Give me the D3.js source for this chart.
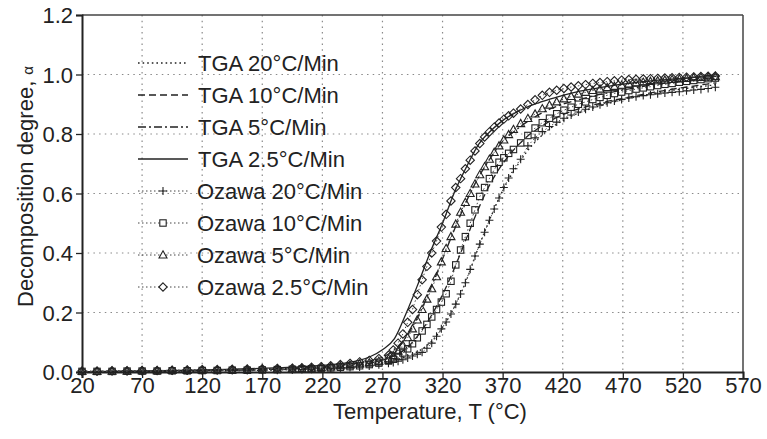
<!DOCTYPE html>
<html><head><meta charset="utf-8">
<script src="https://cdn.jsdelivr.net/npm/d3@7"></script>
<style>
body{margin:0;background:#fff}
text{font-family:"Liberation Sans",Arial,sans-serif;fill:#222}
</style>
</head><body>
<svg id="c" width="767" height="439"></svg>
<script>
const xTicks = [20,70,120,170,220,270,320,370,420,470,520,570];
const yTicks = [0,0.2,0.4,0.6,0.8,1.0,1.2];

const tgaNames = ["TGA 20°C/Min","TGA 10°C/Min","TGA 5°C/Min","TGA 2.5°C/Min"];
const ozNames = ["Ozawa 20°C/Min","Ozawa 10°C/Min","Ozawa 5°C/Min","Ozawa 2.5°C/Min"];

const tgaT = [20,40,60,80,100,120,140,160,180,200,220,240,250,260,270,280,290,300,310,320,330,340,350,360,370,380,390,400,410,420,430,440,450,460,470,480,490,500,510,520,530,540,548];
const tga20 = [0,0.001,0.001,0.002,0.002,0.003,0.004,0.005,0.007,0.009,0.011,0.015,0.018,0.023,
  0.03,0.04,0.052,0.07,0.1,0.15,0.22,0.31,0.42,0.52,0.61,0.68,0.74,0.785,0.82,0.845,0.865,0.88,0.893,0.905,0.915,0.924,0.932,0.94,0.946,0.952,0.957,0.962,0.966];
const tga10 = [0,0.001,0.002,0.002,0.003,0.004,0.005,0.007,0.009,0.011,0.014,0.019,0.023,0.03,
  0.04,0.055,0.08,0.125,0.185,0.26,0.35,0.45,0.55,0.635,0.7,0.75,0.79,0.82,0.845,0.865,0.88,0.892,0.902,0.912,0.92,0.928,0.936,0.943,0.95,0.956,0.962,0.968,0.972];
const tga5 = [0,0.001,0.002,0.003,0.004,0.005,0.007,0.009,0.011,0.014,0.018,0.025,0.03,0.038,
  0.05,0.075,0.12,0.19,0.28,0.38,0.48,0.575,0.655,0.72,0.775,0.81,0.84,0.865,0.885,0.9,0.912,0.922,0.932,0.94,0.948,0.955,0.962,0.968,0.973,0.978,0.983,0.987,0.99];
const tga25 = [0,0.002,0.003,0.004,0.005,0.007,0.009,0.011,0.014,0.017,0.022,0.031,0.038,0.052,
  0.075,0.112,0.2,0.3,0.405,0.5,0.605,0.69,0.765,0.81,0.845,0.87,0.89,0.905,0.918,0.93,0.94,0.948,0.955,0.962,0.968,0.973,0.977,0.981,0.984,0.987,0.99,0.992,0.994];

const ozT = [20,32.5,45,57.5,70,82.5,95,107.5,120,132.5,145,157.5,170,182.5,195,
  203,211,219,227,235,243,251,259,267,275,
  279,283,287,291,295,299,303,307,311,315,319,323,327,331,335,339,343,347,351,355,359,363,367,371,375,379,
  385,391,397,403,409,415,421,427,433,439,445,451,457,463,469,475,481,487,493,499,505,511,517,523,529,535,541,547];
const oz20 = [0.001,0.001,0.002,0.002,0.002,0.003,0.003,0.003,0.004,0.004,0.005,0.005,0.006,0.006,0.007,
  0.008,0.009,0.010,0.011,0.013,0.015,0.017,0.02,0.024,0.029,
  0.032,0.036,0.041,0.047,0.054,0.06,0.066,0.08,0.097,0.12,0.145,0.168,0.195,0.228,0.262,0.3,0.345,0.39,0.43,0.47,0.51,0.548,0.585,0.62,0.652,0.683,
  0.715,0.76,0.787,0.808,0.825,0.84,0.853,0.864,0.874,0.883,0.891,0.898,0.905,0.911,0.916,0.921,0.925,0.929,0.932,0.935,0.938,0.94,0.942,0.945,0.948,0.95,0.953,0.957];
const oz10 = [0.002,0.002,0.002,0.003,0.003,0.003,0.004,0.004,0.005,0.005,0.006,0.006,0.007,0.008,0.009,
  0.010,0.011,0.012,0.014,0.016,0.018,0.021,0.025,0.03,0.037,
  0.043,0.052,0.064,0.078,0.095,0.115,0.138,0.16,0.185,0.21,0.235,0.263,0.305,0.36,0.41,0.455,0.50,0.545,0.59,0.62,0.65,0.68,0.705,0.72,0.735,0.748,
  0.77,0.795,0.82,0.838,0.853,0.868,0.88,0.89,0.9,0.908,0.916,0.923,0.93,0.936,0.941,0.946,0.951,0.955,0.959,0.963,0.967,0.97,0.974,0.977,0.98,0.983,0.986,0.988];
const oz5 = [0.002,0.002,0.003,0.003,0.004,0.004,0.005,0.005,0.006,0.007,0.007,0.008,0.009,0.010,0.011,
  0.012,0.013,0.015,0.017,0.020,0.023,0.027,0.031,0.036,0.044,
  0.055,0.07,0.09,0.115,0.145,0.175,0.21,0.245,0.28,0.32,0.37,0.415,0.455,0.497,0.537,0.57,0.60,0.632,0.663,0.69,0.715,0.738,0.76,0.78,0.798,0.815,
  0.835,0.852,0.867,0.885,0.897,0.908,0.918,0.926,0.934,0.94,0.946,0.951,0.956,0.96,0.964,0.968,0.971,0.974,0.977,0.979,0.981,0.983,0.985,0.987,0.989,0.99,0.991,0.993];
const oz25 = [0.003,0.003,0.004,0.004,0.005,0.005,0.006,0.007,0.008,0.008,0.009,0.010,0.011,0.012,0.013,
  0.014,0.016,0.018,0.021,0.025,0.029,0.034,0.039,0.045,0.056,
  0.074,0.097,0.128,0.167,0.21,0.26,0.31,0.355,0.40,0.44,0.487,0.53,0.575,0.62,0.65,0.683,0.712,0.743,0.768,0.79,0.807,0.823,0.837,0.85,0.861,0.87,
  0.884,0.899,0.915,0.93,0.94,0.947,0.953,0.958,0.962,0.966,0.97,0.973,0.976,0.979,0.981,0.983,0.984,0.985,0.986,0.987,0.988,0.989,0.99,0.991,0.992,0.993,0.994,0.995];

const svg = d3.select("#c");
const L = 82, R = 743, T = 15, B = 372;
const x = d3.scaleLinear().domain([20,570]).range([L,R]);
const y = d3.scaleLinear().domain([0,1.2]).range([B,T]);
const ink = "#222";

// grid
const grid = svg.append("g");
grid.selectAll("line.h").data(yTicks.filter(v=>v>0 && v<1.2)).join("line")
  .attr("x1",L).attr("x2",R).attr("y1",d=>y(d)).attr("y2",d=>y(d))
  .attr("stroke","#8a8a8a").attr("stroke-width",1.2).attr("stroke-dasharray","1.5,4.2");
grid.selectAll("line.v").data(xTicks.filter(v=>v>20 && v<570)).join("line")
  .attr("y1",T).attr("y2",B).attr("x1",d=>x(d)).attr("x2",d=>x(d))
  .attr("stroke","#8a8a8a").attr("stroke-width",1.2).attr("stroke-dasharray","1.5,4.2");

// frame top/right
svg.append("line").attr("x1",L).attr("x2",R).attr("y1",T).attr("y2",T).attr("stroke","#444").attr("stroke-width",1.5);
svg.append("line").attr("x1",R).attr("x2",R).attr("y1",T).attr("y2",B).attr("stroke","#444").attr("stroke-width",1.5);

// axes
const xAxis = svg.append("g").attr("transform",`translate(0,${B})`)
  .call(d3.axisBottom(x).tickValues(xTicks).tickSize(6).tickFormat(d3.format("d")));
const yAxis = svg.append("g").attr("transform",`translate(${L},0)`)
  .call(d3.axisLeft(y).tickValues(yTicks).tickSize(6).tickPadding(3).tickFormat(d3.format(".1f")));
[xAxis,yAxis].forEach(g=>{
  g.select(".domain").attr("stroke",ink).attr("stroke-width",2);
  g.selectAll(".tick line").attr("stroke",ink).attr("stroke-width",1.3);
  g.selectAll(".tick text").attr("font-size",22).attr("fill",ink)
   .attr("font-family","'Liberation Sans',Arial,sans-serif");
});
xAxis.selectAll(".tick text").attr("y",5).attr("dy","0.71em");
yAxis.selectAll(".tick text").attr("dy","0.36em");

// titles
svg.append("text").attr("x",430).attr("y",419).attr("text-anchor","middle")
  .attr("font-size",22).text("Temperature, T (°C)");
const yt = svg.append("text").attr("transform","translate(33,307) rotate(-90)")
  .attr("font-size",22);
yt.append("tspan").text("Decomposition degree, ");
yt.append("tspan").attr("font-size",15).text("α");

// TGA lines
const dashes = ["1.6,3","7,4","8,3,2,3",null];
const tgaData = [tga20,tga10,tga5,tga25];
const line = d3.line().x(d=>x(d[0])).y(d=>y(d[1])).curve(d3.curveMonotoneX);
const gL = svg.append("g");
tgaData.forEach((arr,i)=>{
  gL.append("path").datum(tgaT.map((t,j)=>[t,arr[j]]))
    .attr("d",line).attr("fill","none").attr("stroke",ink)
    .attr("stroke-width",1.3).attr("stroke-dasharray",dashes[i]);
});

// Ozawa markers
const ozData = [oz20,oz10,oz5,oz25];
const shapes = [
  (g)=>g.append("path").attr("d","M-4,0H4M0,-4V4"),
  (g)=>g.append("rect").attr("x",-3.2).attr("y",-3.2).attr("width",6.4).attr("height",6.4),
  (g)=>g.append("path").attr("d","M0,-4.2L4,3L-4,3Z"),
  (g)=>g.append("path").attr("d","M0,-4.2L4.2,0L0,4.2L-4.2,0Z")
];
const gO = svg.append("g");
ozData.forEach((arr,i)=>{
  const pts = ozT.map((t,j)=>[t,arr[j]]);
  gO.append("path").datum(pts).attr("d",d3.line().x(d=>x(d[0])).y(d=>y(d[1])))
    .attr("fill","none").attr("stroke","#444").attr("stroke-width",1).attr("stroke-dasharray","1.5,2.5");
  pts.forEach(p=>{
    const g = gO.append("g").attr("transform",`translate(${x(p[0])},${y(p[1])})`);
    shapes[i](g).attr("fill","none").attr("stroke","#222").attr("stroke-width",1.1);
  });
});

// legend
const leg = svg.append("g");
const rowY = [63,95,127,159,191,223,255,287];
tgaNames.forEach((n,i)=>{
  const yy = rowY[i];
  leg.append("line").attr("x1",138).attr("x2",188).attr("y1",yy).attr("y2",yy)
    .attr("stroke",ink).attr("stroke-width",1.3).attr("stroke-dasharray",dashes[i]);
  leg.append("text").attr("x",198).attr("y",yy+8).attr("font-size",22).text(n);
});
ozNames.forEach((n,i)=>{
  const yy = rowY[i+4];
  leg.append("line").attr("x1",138).attr("x2",188).attr("y1",yy).attr("y2",yy)
    .attr("stroke","#444").attr("stroke-width",1).attr("stroke-dasharray","1.5,2.5");
  const g = leg.append("g").attr("transform",`translate(163,${yy})`);
  shapes[i](g).attr("fill","#fff").attr("stroke","#222").attr("stroke-width",1.1);
  leg.append("text").attr("x",197).attr("y",yy+8).attr("font-size",22).text(n);
});
</script>
</body></html>
